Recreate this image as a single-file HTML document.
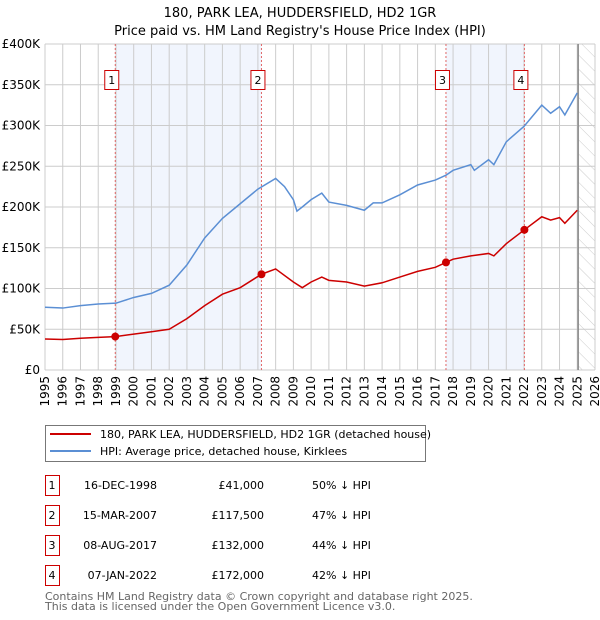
<!DOCTYPE html>
<html><head><meta charset="utf-8"><style>
body{margin:0;background:#fff;}
svg{display:block;font-family:"DejaVu Sans","Liberation Sans",sans-serif;}
</style></head><body>
<svg id="chart" width="600" height="620">
<text x="300" y="17" text-anchor="middle" font-size="13">180, PARK LEA, HUDDERSFIELD, HD2 1GR</text>
<text x="300" y="35" text-anchor="middle" font-size="13">Price paid vs. HM Land Registry's House Price Index (HPI)</text>
<g id="plot"></g>
<g>
<rect x="45.5" y="425.5" width="380" height="36" fill="#fff" stroke="#777"/>
<line x1="50" y1="434" x2="91" y2="434" stroke="#cc0000" stroke-width="2"/>
<text x="100" y="438" font-size="11">180, PARK LEA, HUDDERSFIELD, HD2 1GR (detached house)</text>
<line x1="50" y1="451" x2="91" y2="451" stroke="#5b8fd4" stroke-width="2"/>
<text x="100" y="455" font-size="11">HPI: Average price, detached house, Kirklees</text>
</g>
<g id="table" font-size="11"></g>
<text x="45" y="600" font-size="11" fill="#666">Contains HM Land Registry data © Crown copyright and database right 2025.</text>
<text x="45" y="610" font-size="11" fill="#666">This data is licensed under the Open Government Licence v3.0.</text>
</svg>
<script>
const hpiYears=[1995,1996,1997,1998,1999,2000,2001,2002,2003,2004,2005,2006,2007,2008,2008.5,2009,2009.2,2009.5,2010,2010.6,2011,2012,2013,2013.5,2014,2015,2016,2017,2017.6,2018,2019,2019.2,2020,2020.3,2021,2022,2023,2023.5,2024,2024.3,2025];
const hpiValues=[77000,76000,79000,81000,82000,89000,94000,104000,129000,162000,186000,204000,222000,235000,225000,209000,195000,200000,209000,217000,206000,202000,196000,205000,205000,215000,227000,233000,239000,245000,252000,245000,258000,252000,280000,299000,325000,315000,323000,313000,340000];
const priceYears=[1995,1996,1997,1998,1998.96,2000,2001,2002,2003,2004,2005,2006,2007.2,2008,2009,2009.5,2010,2010.6,2011,2012,2013,2014,2015,2016,2017,2017.6,2018,2019,2020,2020.3,2021,2022.02,2023,2023.5,2024,2024.3,2025];
const priceValues=[38000,37500,39000,40000,41000,44000,47000,50000,63000,79000,93000,101000,117500,124000,108000,101000,108000,114000,110000,108000,103000,107000,114000,121000,126000,132000,136000,140000,143000,140000,155000,172000,188000,184000,187000,180000,196000];
const saleLabels=["1","2","3","4"];
const saleYears=[1998.96,2007.2,2017.6,2022.02];
const saleDates=["16-DEC-1998","15-MAR-2007","08-AUG-2017","07-JAN-2022"];
const salePrices=[41000,117500,132000,172000];
const salePriceText=["£41,000","£117,500","£132,000","£172,000"];
const saleHpiText=["50% ↓ HPI","47% ↓ HPI","44% ↓ HPI","42% ↓ HPI"];
const yTicks=[0,50000,100000,150000,200000,250000,300000,350000,400000];
const yTickLabels=["£0","£50K","£100K","£150K","£200K","£250K","£300K","£350K","£400K"];
const xTicks=[1995,1996,1997,1998,1999,2000,2001,2002,2003,2004,2005,2006,2007,2008,2009,2010,2011,2012,2013,2014,2015,2016,2017,2018,2019,2020,2021,2022,2023,2024,2025,2026];
const dataEnd=2025.05;

const NS="http://www.w3.org/2000/svg";
const X0=45,X1=595,Y0=370,Y1=44;
const xs=y=>X0+(y-1995)/(2026-1995)*(X1-X0);
const ys=v=>Y0-v/400000*(Y0-Y1);
function mk(p,t,a){const e=document.createElementNS(NS,t);for(const k in a)e.setAttribute(k,a[k]);p.appendChild(e);return e;}
const plot=document.getElementById('plot');
for(let i=0;i<4;i+=2){
  const r=mk(plot,'rect',{x:xs(saleYears[i]),y:Y1,width:xs(saleYears[i+1])-xs(saleYears[i]),height:Y0-Y1,fill:'#eef3fc',opacity:'0.8'});
  
  
}
const defs=mk(plot,'defs',{});
const pat=mk(defs,'pattern',{id:'hatch',width:10,height:10,patternUnits:'userSpaceOnUse',patternTransform:'rotate(-45)'});
mk(pat,'line',{x1:0,y1:0,x2:0,y2:10,stroke:'#ccc','stroke-width':1});
const hr=mk(plot,'rect',{x:xs(dataEnd),y:Y1,width:X1-xs(dataEnd),height:Y0-Y1,fill:'url(#hatch)'});


yTicks.forEach((v,i)=>{
  const l=mk(plot,'line',{x1:X0,x2:X1,y1:ys(v),y2:ys(v),stroke:'#ccc'});
  
  
  const t=mk(plot,'text',{x:X0-5,y:ys(v)+4,'text-anchor':'end','font-size':12});
  t.textContent=yTickLabels[i];
  
  
});
xTicks.forEach(y=>{
  const l=mk(plot,'line',{x1:xs(y),x2:xs(y),y1:Y1,y2:Y0,stroke:'#ccc'});
  
  
  const t=mk(plot,'text',{x:0,y:0,'text-anchor':'end','font-size':12,transform:`translate(${xs(y)+4},${Y0+6}) rotate(-90)`});
  t.textContent=y;
  
  
});
const dl=mk(plot,'line',{x1:xs(dataEnd),x2:xs(dataEnd),y1:Y1,y2:Y0,stroke:'#888','stroke-width':1.5});


saleYears.forEach((y,i)=>{
  const l=mk(plot,'line',{x1:xs(y),x2:xs(y),y1:Y1,y2:Y0,stroke:'#e06666','stroke-dasharray':'2,2'});
  
  
  const b=mk(plot,'rect',{x:xs(y)-10.5,y:70.5,width:14,height:19,fill:'#fff',stroke:'#cc0000'});
  
  
  const t=mk(plot,'text',{x:xs(y)-3.5,y:84,'text-anchor':'middle','font-size':11});
  t.textContent=saleLabels[i];
  
  
});
const hp=mk(plot,'polyline',{points:hpiYears.map((y,i)=>xs(y)+','+ys(hpiValues[i])).join(' '),fill:'none',stroke:'#5b8fd4','stroke-width':1.5});


const pp=mk(plot,'polyline',{points:priceYears.map((y,i)=>xs(y)+','+ys(priceValues[i])).join(' '),fill:'none',stroke:'#cc0000','stroke-width':1.5});


saleYears.forEach((y,i)=>{
  const c=mk(plot,'circle',{cx:xs(y),cy:ys(salePrices[i]),r:4,fill:'#cc0000'});
  
  
});
const tb=document.getElementById('table');
saleDates.forEach((d,i)=>{
  const yy=475+i*30;
  const b=mk(tb,'rect',{x:45.5,y:yy+0.5,width:14,height:20,fill:'#fff',stroke:'#cc0000'});
  
  
  const vals=[[52,saleLabels[i],'middle'],[157,d,'end'],[264,salePriceText[i],'end'],[312,saleHpiText[i],'start']];
  vals.forEach(v=>{
    const t=mk(tb,'text',{x:v[0],y:yy+14,'text-anchor':v[2]});
    t.textContent=v[1];
    
    
  });
});
</script>
</body></html>
